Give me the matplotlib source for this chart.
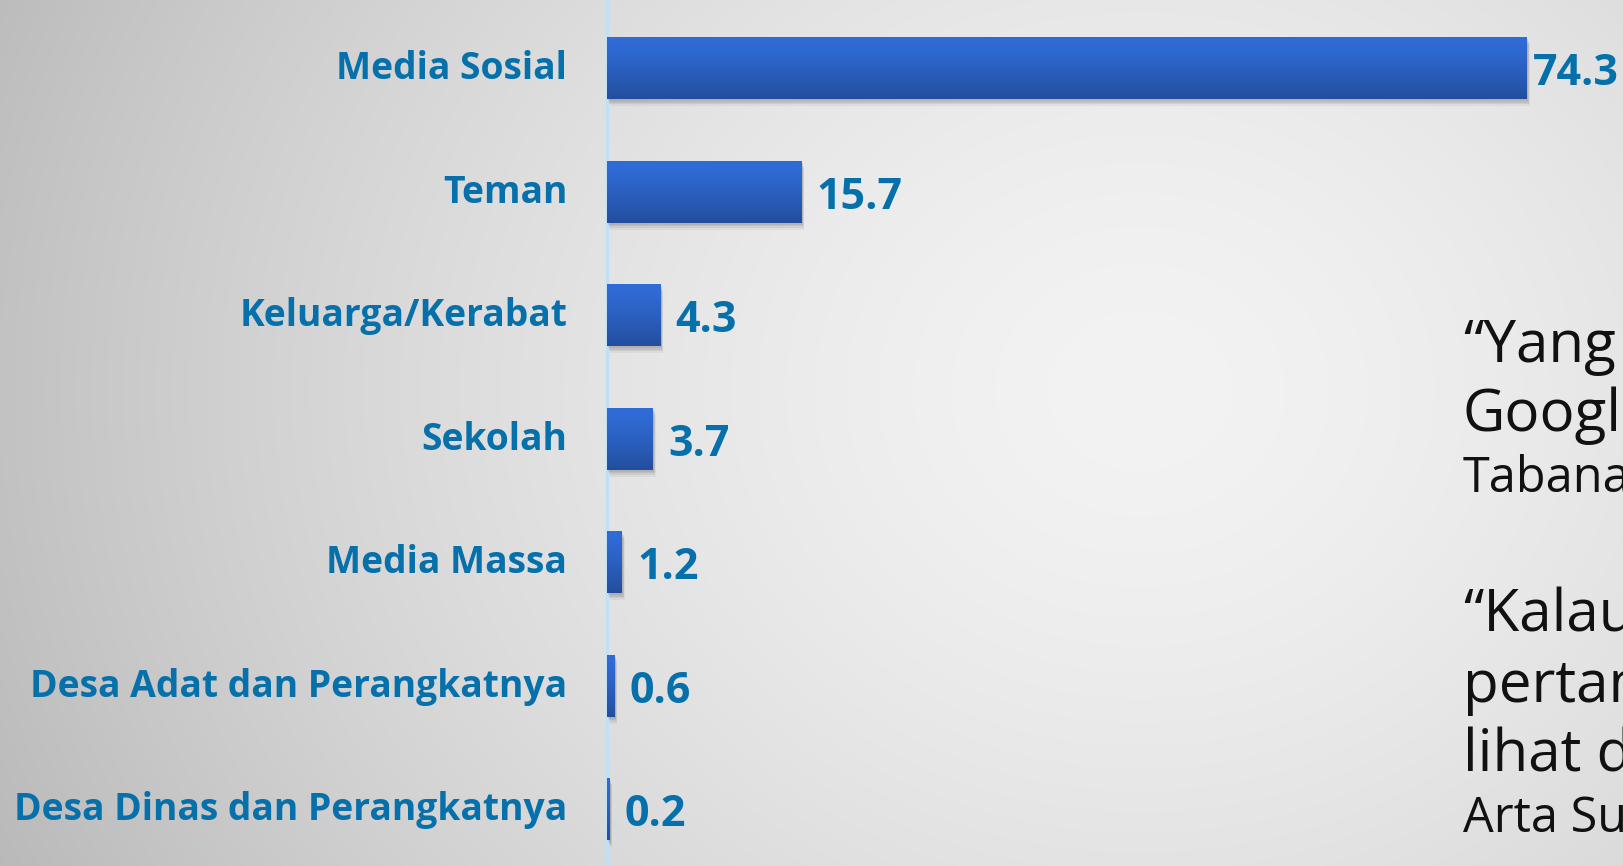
import numpy as np
import matplotlib
matplotlib.use("Agg")
import matplotlib.pyplot as plt
import matplotlib.patheffects as pe

# ---- data ----
categories = ["Media Sosial", "Teman", "Keluarga/Kerabat", "Sekolah",
              "Media Massa", "Desa Adat dan Perangkatnya",
              "Desa Dinas dan Perangkatnya"]
values = [74.3, 15.7, 4.3, 3.7, 1.2, 0.6, 0.2]
value_labels = ["74.3", "15.7", "4.3", "3.7", "1.2", "0.6", "0.2"]

quote_lines = ["\u201cYang", "Google", "Tabanan", "\u201cKalau", "pertama", "lihat di", "Arta Su"]

W, H, DPI = 1624, 866, 100
fig = plt.figure(figsize=(W / DPI, H / DPI), dpi=DPI)

# ---- background (soft radial grey gradient) ----
bg = fig.add_axes([0, 0, 1, 1], zorder=0)
yy, xx = np.mgrid[0:H, 0:W]
cx, cy = 1140, 390
d = np.sqrt(((xx - cx) * 1.0) ** 2 + ((yy - cy) * 1.15) ** 2)
t = np.clip(d / 1200.0, 0, 1.2)
g = (243 - 53 * t ** 1.55) / 255.0
img = np.dstack([g, g, g])
bg.imshow(img, extent=(0, W, H, 0), aspect="auto", interpolation="bilinear")
bg.set_xlim(0, W)
bg.set_ylim(H, 0)
bg.axis("off")

# ---- main axes ----
x0_px = 607.5
ax = fig.add_axes([x0_px / W, 0, 1 - x0_px / W, 1], zorder=1)
ax.patch.set_alpha(0)

ypos = np.arange(len(categories))
bars = ax.barh(ypos, values, height=0.50, color="#2a5ec0", zorder=2)
shadow = [pe.SimplePatchShadow(offset=(0.6, -1.2), shadow_rgbFace="0.35", alpha=0.12),
          pe.SimplePatchShadow(offset=(1.0, -2.4), shadow_rgbFace="0.35", alpha=0.12),
          pe.SimplePatchShadow(offset=(1.4, -3.6), shadow_rgbFace="0.35", alpha=0.10),
          pe.SimplePatchShadow(offset=(1.8, -4.8), shadow_rgbFace="0.35", alpha=0.07),
          pe.Normal()]
for b in bars:
    b.set_path_effects(shadow)

# vertical gradient on each bar
top_c = np.array([48, 108, 216]) / 255.0
bot_c = np.array([35, 78, 158]) / 255.0
n = 64
s = np.linspace(0, 1, n) ** 1.3
grad = (top_c[None, :] * (1 - s[:, None]) + bot_c[None, :] * s[:, None])[:, None, :]
for b in bars:
    x, y, w, h = b.get_x(), b.get_y(), b.get_width(), b.get_height()
    ax.imshow(grad, extent=(x, x + w, y + h, y), aspect="auto",
              interpolation="bilinear", zorder=3)

px_per_unit = 12.38
ax.set_xlim(0, (W - x0_px) / px_per_unit)
ax.set_ylim((H - 68.5) / 123.5, -68.5 / 123.5)

for sp in ["top", "right", "bottom"]:
    ax.spines[sp].set_visible(False)
ax.spines["left"].set_color("#bfe0f6")
ax.spines["left"].set_linewidth(2.4)
ax.spines["left"].set_zorder(1.5)
ax.set_xticks([])
ax.set_yticks([])

label_color = "#0670ab"
xmax = ax.get_xlim()[1]
for yk, cat in zip(ypos, categories):
    ax.annotate(cat, xy=(0, yk), xycoords=("axes fraction", "data"),
                xytext=(-29.0, -7.9), textcoords="offset points",
                ha="right", va="baseline", fontsize=26.8, fontweight="bold",
                family="Open Sans", color=label_color, annotation_clip=False)

for yk, v, lab in zip(ypos, values, value_labels):
    pad = 4.3 if v > 0.85 * xmax else 10.8
    ax.annotate(lab, xy=(v, yk), xytext=(pad, -12.2), textcoords="offset points",
                ha="left", va="baseline", fontsize=31, fontweight="bold",
                family="Open Sans", color=label_color, annotation_clip=False,
                zorder=5)

# ---- quote text on the right (runs off the figure edge, as in the slide) ----
qx = 1463
quote_baselines = [362, 431, 492, 632, 702, 772, 832]
quote_sizes = [42, 42, 35, 42, 42, 42, 35]
for txt, yb, fs in zip(quote_lines, quote_baselines, quote_sizes):
    fig.text(qx / W, 1 - yb / H, txt, ha="left", va="baseline", fontsize=fs,
             family="Open Sans", color="#111111", zorder=6)

fig.savefig("out.png", dpi=DPI)
